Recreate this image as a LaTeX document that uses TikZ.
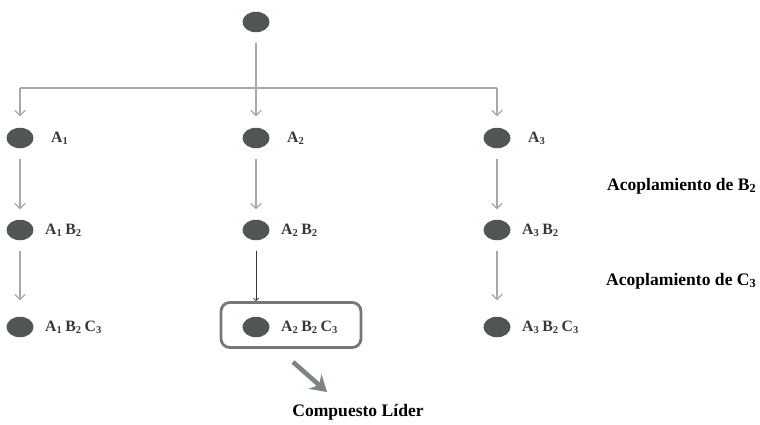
\documentclass[tikz,border=0pt]{standalone}
\usepackage{fontspec}
\setmainfont{Liberation Serif}
\usepackage{xcolor}
\usepackage{tikz}
\usetikzlibrary{
	positioning,						% Relative placement of the labels
	shapes.geometric,					% Ellipses for the scaffolds
	arrows.meta							% Arrow tips
}
\definecolor{mol-grey}{RGB}{80,86,86}
\definecolor{link-grey}{RGB}{168,168,168}
\definecolor{tag-grey}{RGB}{55,55,55}
\definecolor{frame-grey}{RGB}{118,120,120}
\definecolor{lead-green}{RGB}{122,134,128}

\begin{document}
\begin{tikzpicture}[x=0.02cm, y=-0.02cm]
		\tikzstyle{mol} = [ellipse, fill=mol-grey, minimum width=0.54cm, minimum height=0.41cm, inner sep=0pt]
		\tikzstyle{tag} = [font=\small\bfseries, text=tag-grey, inner sep=0pt]
		\tikzstyle{stage} = [font=\bfseries, text=black, inner sep=0pt]
		\tikzstyle{link} = [draw=link-grey, line width=0.7pt, -{Straight Barb[length=3pt,width=6pt]}]
		\tikzstyle{leadBox} = [draw=frame-grey, line width=1.6pt, rounded corners=5pt, minimum width=2.8cm, minimum height=0.9cm]
		\tikzstyle{leadArrow} = [draw=lead-green, line width=2.6pt, -{Stealth[length=9pt, width=11pt, inset=3pt]}]
		
		\useasboundingbox (0,0) rectangle (760,424);
		
		% Starting scaffold and split into three branches
		\node[mol] (core) at (256,22) {};
		\coordinate (splitL) at (20,88);
		\coordinate (splitR) at (497,88);
		
		%% Scaffolds of the three rows
		\foreach \i/\x in {1/20, 2/256, 3/497}{
			\node[mol] at (\x,138) (rowA\i) {};
			\node[mol] at (\x,230) (rowAB\i) {};
			\node[mol] at (\x,327) (rowABC\i) {};
		}
		%% Labels next to the scaffolds
		\foreach \i in {1, 2, 3}{
			\node[tag, right=0.34cm of rowA\i] (tagA\i) {A\textsubscript{\i}};
			\node[tag, right=0.22cm of rowAB\i] (tagAB\i) {A\textsubscript{\i}\,B\textsubscript{2}};
			\node[tag, right=0.22cm of rowABC\i] (tagABC\i) {A\textsubscript{\i}\,B\textsubscript{2}\,C\textsubscript{3}};
		}
		
		%% Branching arrows
		\draw[draw=link-grey, line width=0.7pt] (splitL) -- (splitR);
		\draw[link, shorten <=0.2cm, shorten >=0.22cm] (core) -- (rowA2);
		\draw[link, shorten >=0.22cm] (splitL) -- (rowA1);
		\draw[link, shorten >=0.22cm] (splitR) -- (rowA3);
		
		%% Coupling arrows
		\foreach \i in {1, 2, 3}{
			\draw[link, shorten <=0.2cm, shorten >=0.2cm] (rowA\i) -- (rowAB\i);
		}
		\foreach \i in {1, 3}{
			\draw[link, shorten <=0.2cm, shorten >=0.32cm] (rowAB\i) -- (rowABC\i);
		}
		
		% Lead compound
		\node[leadBox] at (291,325) (leadBox) {};
		\draw[link, draw=tag-grey, line width=0.4pt, -{Straight Barb[length=1.5pt,width=3pt]}, shorten <=0.2cm] (rowAB2) -- (rowAB2 |- leadBox.north);
		\coordinate (leadTail) at (293,362);
		\coordinate (leadTip) at (327,392);
		\draw[leadArrow] (leadTail) -- (leadTip);
		\node[stage] at (358,412) (leadName) {Compuesto Líder};
		
		% Coupling steps
		\node[stage, anchor=east] at (757,186) (stageB) {Acoplamiento de B\textsubscript{2}};
		\node[stage, anchor=east] at (757,281) (stageC) {Acoplamiento de C\textsubscript{3}};
	\end{tikzpicture}
\end{document}
